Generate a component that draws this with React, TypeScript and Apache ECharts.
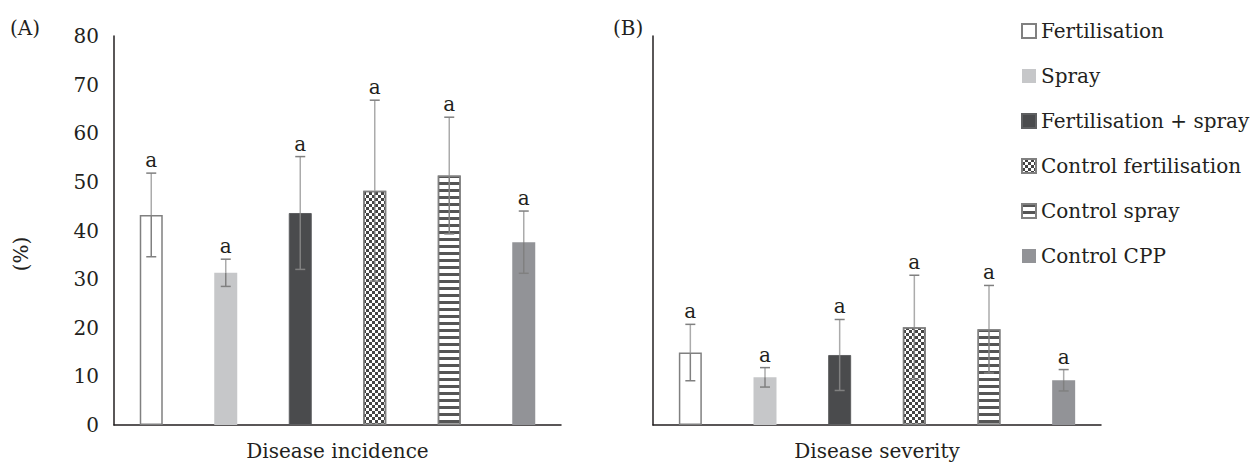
import React, { useEffect, useRef } from "react";
import * as echarts from "echarts";

const categories = [
  "Fertilisation",
  "Spray",
  "Fertilisation + spray",
  "Control fertilisation",
  "Control spray",
  "Control CPP",
];
const incidence = [43.2, 31.3, 43.6, 48.2, 51.3, 37.6];
const incidenceErr = [8.6, 2.8, 11.6, 18.6, 12.0, 6.4];
const severity = [14.9, 9.8, 14.4, 20.1, 19.7, 9.2];
const severityErr = [5.8, 2.0, 7.3, 10.7, 9.0, 2.2];
const incidenceLetters = ["a", "a", "a", "a", "a", "a"];
const severityLetters = ["a", "a", "a", "a", "a", "a"];
const yMin = 0;
const yMax = 80;
const yInterval = 10;

const FONT = "DejaVu Serif";
const TEXT = "#231f20";
const FS = 20;

const seriesStyles: any[] = [
  { color: "#ffffff", borderColor: "#808080", borderWidth: 1.5 },
  { color: "#c6c7c9" },
  { color: "#4a4b4d", borderColor: "#5e5f61", borderWidth: 1 },
  {
    color: "#ffffff",
    borderColor: "#808080",
    borderWidth: 1.5,
    decal: {
      symbol: "rect",
      symbolSize: 1,
      dashArrayX: [
        [3, 3],
        [0, 3, 3, 0],
      ],
      dashArrayY: [3, 0],
      rotation: 0,
      color: "#444444",
    },
  },
  {
    color: "#ffffff",
    borderColor: "#808080",
    borderWidth: 1.5,
    decal: {
      symbol: "rect",
      symbolSize: 1,
      dashArrayX: [10, 0],
      dashArrayY: [3, 4],
      rotation: 0,
      color: "#555555",
    },
  },
  { color: "#929397" },
];

function barSeries(values: number[], gridIdx: number) {
  return categories.map((name, i) => ({
    type: "bar",
    name,
    xAxisIndex: gridIdx,
    yAxisIndex: gridIdx,
    barWidth: 23,
    barGap: "-100%",
    itemStyle: seriesStyles[i],
    data: categories.map((_, j) => (j === i ? values[i] : "-")),
    z: 2,
  }));
}

function errSeries(values: number[], errs: number[], letters: string[], gridIdx: number) {
  return {
    type: "custom",
    xAxisIndex: gridIdx,
    yAxisIndex: gridIdx,
    z: 5,
    data: values.map((v, i) => [i, v, errs[i]]),
    encode: { x: 0, y: 1 },
    renderItem: (params: any, api: any) => {
      const idx = api.value(0);
      const v = api.value(1);
      const e = api.value(2);
      const top = api.coord([idx, v + e]);
      const mid = api.coord([idx, v]);
      const bot = api.coord([idx, v - e]);
      const x = top[0];
      const cap = 5;
      return {
        type: "group",
        children: [
          {
            type: "line",
            shape: { x1: x, y1: top[1], x2: x, y2: mid[1] },
            style: { stroke: "#ababab", lineWidth: 1.5 },
          },
          {
            type: "line",
            shape: { x1: x, y1: mid[1], x2: x, y2: bot[1] },
            style: { stroke: "#808080", lineWidth: 1.5 },
          },
          {
            type: "line",
            shape: { x1: x - cap, y1: top[1], x2: x + cap, y2: top[1] },
            style: { stroke: "#808080", lineWidth: 1.5 },
          },
          {
            type: "line",
            shape: { x1: x - cap, y1: bot[1], x2: x + cap, y2: bot[1] },
            style: { stroke: "#808080", lineWidth: 1.5 },
          },
          {
            type: "text",
            x: x,
            y: top[1] - 13,
            style: {
              text: letters[params.dataIndex],
              fontFamily: FONT,
              fontSize: FS,
              fill: TEXT,
              align: "center",
              verticalAlign: "middle",
            },
          },
        ],
      };
    },
  };
}

export default function App() {
  const ref = useRef<HTMLDivElement>(null);
  useEffect(() => {
    if (!ref.current) return;
    const chart = echarts.init(ref.current, undefined, { renderer: "svg" });
    const axisLine = { show: true, lineStyle: { color: TEXT, width: 1.5 } };
    const option: any = {
      animation: false,
      backgroundColor: "#ffffff",
      textStyle: { fontFamily: FONT, color: TEXT },
      grid: [
        { left: 114, top: 36, width: 447, bottom: 39.3 },
        { left: 653, top: 36, width: 448, bottom: 39.3 },
      ],
      xAxis: [0, 1].map((g) => ({
        type: "category",
        gridIndex: g,
        data: categories,
        axisLine,
        axisTick: { show: false },
        axisLabel: { show: false },
        name: g === 0 ? "Disease incidence" : "Disease severity",
        nameLocation: "middle",
        nameGap: 16,
        nameTextStyle: { fontFamily: FONT, fontSize: FS, color: TEXT },
      })),
      yAxis: [0, 1].map((g) => ({
        type: "value",
        gridIndex: g,
        min: yMin,
        max: yMax,
        interval: yInterval,
        axisLine,
        axisTick: { show: false },
        splitLine: { show: false },
        axisLabel: {
          show: g === 0,
          margin: 15,
          fontFamily: FONT,
          fontSize: FS,
          color: TEXT,
        },
      })),
      legend: {
        orient: "vertical",
        left: 1016,
        top: 16,
        itemWidth: 14,
        itemHeight: 14,
        itemGap: 25,
        icon: "rect",
        data: categories,
        textStyle: { fontFamily: FONT, fontSize: 20, color: TEXT },
      },
      graphic: [
        {
          type: "text",
          x: 10,
          y: 28,
          style: { text: "(A)", fontFamily: FONT, fontSize: FS, fill: TEXT, align: "left", verticalAlign: "middle" },
        },
        {
          type: "text",
          x: 613,
          y: 28,
          style: { text: "(B)", fontFamily: FONT, fontSize: FS, fill: TEXT, align: "left", verticalAlign: "middle" },
        },
        {
          type: "text",
          x: 21,
          y: 254,
          rotation: Math.PI / 2,
          style: { text: "(%)", fontFamily: FONT, fontSize: FS, fill: TEXT, align: "center", verticalAlign: "middle" },
        },
      ],
      series: [
        ...barSeries(incidence, 0),
        ...barSeries(severity, 1),
        errSeries(incidence, incidenceErr, incidenceLetters, 0),
        errSeries(severity, severityErr, severityLetters, 1),
      ],
    };
    chart.setOption(option);
    return () => chart.dispose();
  }, []);
  return (
    <div
      ref={ref}
      style={{ position: "fixed", left: 0, top: 0, width: 1257, height: 466 }}
    />
  );
}
